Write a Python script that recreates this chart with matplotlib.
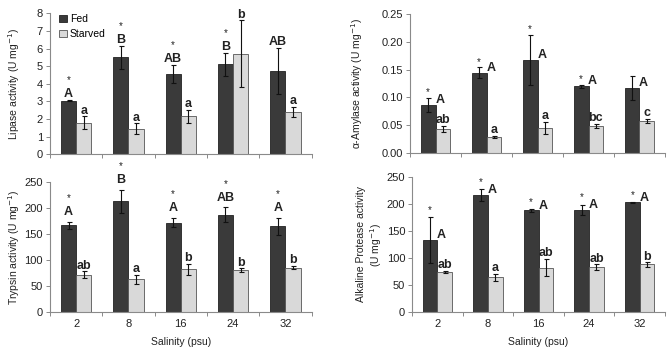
import matplotlib.pyplot as plt
import numpy as np
from matplotlib.ticker import FixedLocator, NullFormatter

plt.rcParams['font.family'] = ['Liberation Sans', 'DejaVu Sans']

salinity = ['2', '8', '16', '24', '32']

# lipase
lip_fed = [3.05, 5.5, 4.55, 5.1, 4.75]
lip_fed_err = [0.03, 0.65, 0.53, 0.65, 1.3]
lip_st = [1.8, 1.45, 2.15, 5.7, 2.4]
lip_st_err = [0.35, 0.3, 0.38, 1.9, 0.28]
lip_fed_lab = ['A', 'B', 'AB', 'B', 'AB']
lip_st_lab = ['a', 'a', 'a', 'b', 'a']
lip_star = [1, 1, 1, 1, 0]

# amylase
amy_fed = [0.086, 0.144, 0.168, 0.12, 0.117]
amy_fed_err = [0.013, 0.01, 0.045, 0.003, 0.021]
amy_st = [0.043, 0.029, 0.045, 0.048, 0.057]
amy_st_err = [0.006, 0.002, 0.011, 0.004, 0.004]
amy_fed_lab = ['A', 'A', 'A', 'A', 'A']
amy_st_lab = ['ab', 'a', 'a', 'bc', 'c']
amy_star = [1, 1, 1, 1, 0]

# trypsin
try_fed = [167, 213, 172, 187, 165]
try_fed_err = [7, 22, 8, 14, 16]
try_st = [72, 63, 82, 80, 85]
try_st_err = [6, 9, 10, 4, 3]
try_fed_lab = ['A', 'B', 'A', 'AB', 'A']
try_st_lab = ['ab', 'a', 'b', 'b', 'b']
try_star = [1, 1, 1, 1, 1]

# alkaline protease
alk_fed = [133, 216, 188, 189, 203]
alk_fed_err = [42, 11, 2, 10, 1]
alk_st = [74, 64, 82, 83, 88]
alk_st_err = [2, 6, 16, 5, 4]
alk_fed_lab = ['A', 'A', 'A', 'A', 'A']
alk_st_lab = ['ab', 'a', 'ab', 'ab', 'b']
alk_star = [1, 1, 1, 1, 1]

FED = '#3a3a3a'
STARVED = '#d9d9d9'
GRAY = '#8a8a8a'
TXT = '#222222'
w = 0.29
x = np.arange(len(salinity))

fig = plt.figure(figsize=(6.69, 3.5), dpi=100)


def panel(rect, fed, fed_err, st, st_err, fed_lab, st_lab, star, ylim, yticks,
          ytl, ylabel, side_letter, lab_off, star_off, xlab, lpad):
    ax = fig.add_axes(rect)
    ax.bar(x - w / 2, fed, w, color=FED, edgecolor='#222222', linewidth=0.6, label='Fed')
    ax.bar(x + w / 2, st, w, color=STARVED, edgecolor='#555555', linewidth=0.6, label='Starved')
    ax.errorbar(x - w / 2, fed, yerr=fed_err, fmt='none', ecolor='#111111',
                elinewidth=0.8, capsize=1.8, capthick=0.8)
    ax.errorbar(x + w / 2, st, yerr=st_err, fmt='none', ecolor='#111111',
                elinewidth=0.8, capsize=1.8, capthick=0.8)
    for i in range(len(x)):
        top = fed[i] + fed_err[i]
        if side_letter:
            ax.annotate(fed_lab[i], (x[i], fed[i]), xytext=(3, 3.5), textcoords='offset points',
                        ha='center', va='center', fontsize=9, fontweight='bold', color=TXT)
            if star[i]:
                ax.annotate('*', (x[i] - w / 2, top), xytext=(0, star_off), textcoords='offset points',
                            ha='center', va='baseline', fontsize=7, color=TXT,
                            annotation_clip=False)
        else:
            ax.annotate(fed_lab[i], (x[i] - w / 2, top), xytext=(0, lab_off[0]),
                        textcoords='offset points', ha='center', va='baseline',
                        fontsize=9, fontweight='bold', color=TXT, annotation_clip=False)
            if star[i]:
                ax.annotate('*', (x[i] - w / 2, top), xytext=(0, lab_off[0] + star_off),
                            textcoords='offset points', ha='center', va='baseline',
                            fontsize=7, color=TXT, annotation_clip=False)
        ax.annotate(st_lab[i], (x[i] + w / 2, st[i] + st_err[i]), xytext=(0, lab_off[1]),
                    textcoords='offset points', ha='center', va='baseline',
                    fontsize=9, fontweight='bold', color=TXT)
    ax.set_xlim(-0.5, len(x) - 0.5)
    ax.set_ylim(*ylim)
    ax.set_yticks(yticks)
    ax.set_yticklabels(ytl)
    ax.xaxis.set_major_locator(FixedLocator(np.arange(-0.5, len(x), 1.0)))
    ax.xaxis.set_major_formatter(NullFormatter())
    ax.xaxis.set_minor_locator(FixedLocator(x))
    if xlab:
        ax.xaxis.set_minor_formatter(plt.FixedFormatter(salinity))
        ax.set_xlabel('Salinity (psu)', fontsize=7.5, color=TXT, labelpad=6)
    else:
        ax.xaxis.set_minor_formatter(NullFormatter())
    ax.tick_params(axis='x', which='minor', length=0, labelsize=8, labelcolor=TXT, pad=5)
    ax.tick_params(axis='x', which='major', length=3, color=GRAY, width=0.7)
    ax.tick_params(axis='y', length=3, color=GRAY, width=0.7, labelsize=8, labelcolor=TXT, pad=2)
    for s in ['top', 'right']:
        ax.spines[s].set_visible(False)
    for s in ['left', 'bottom']:
        ax.spines[s].set_color(GRAY)
        ax.spines[s].set_linewidth(0.8)
    ax.set_ylabel(ylabel, fontsize=7.5, color=TXT, labelpad=lpad)
    return ax


ax1 = panel([0.0747, 0.559, 0.391, 0.403], lip_fed, lip_fed_err, lip_st, lip_st_err,
            lip_fed_lab, lip_st_lab, lip_star, (0, 8), range(0, 9), [str(v) for v in range(9)],
            'Lipase activity (U mg$^{-1}$)', False, (2, 2), 10, False, 11)
ax1.legend(loc='upper left', bbox_to_anchor=(0.0, 1.06), frameon=False, fontsize=7.5,
           handlelength=0.7, handleheight=0.7, handletextpad=0.3, labelspacing=0.45)

yt = [0, 0.05, 0.10, 0.15, 0.20, 0.25]
panel([0.613, 0.563, 0.381, 0.397], amy_fed, amy_fed_err, amy_st, amy_st_err,
      amy_fed_lab, amy_st_lab, amy_star, (0, 0.25), yt, ['%.2f' % v for v in yt],
      '\u03b1-Amylase activity (U mg$^{-1}$)', True, (2, 2), 2, False, 12)

yt = range(0, 251, 50)
panel([0.0747, 0.1086, 0.391, 0.3714], try_fed, try_fed_err, try_st, try_st_err,
      try_fed_lab, try_st_lab, try_star, (0, 250), yt, [str(v) for v in yt],
      'Trypsin activity (U mg$^{-1}$)', False, (5, 2), 10, True, 2)

panel([0.616, 0.1086, 0.378, 0.3857], alk_fed, alk_fed_err, alk_st, alk_st_err,
      alk_fed_lab, alk_st_lab, alk_star, (0, 250), yt, [str(v) for v in yt],
      'Alkaline Protease activity\n(U mg$^{-1}$)', True, (2, 2), 3, True, 2)

fig.savefig('out.png', dpi=100)
